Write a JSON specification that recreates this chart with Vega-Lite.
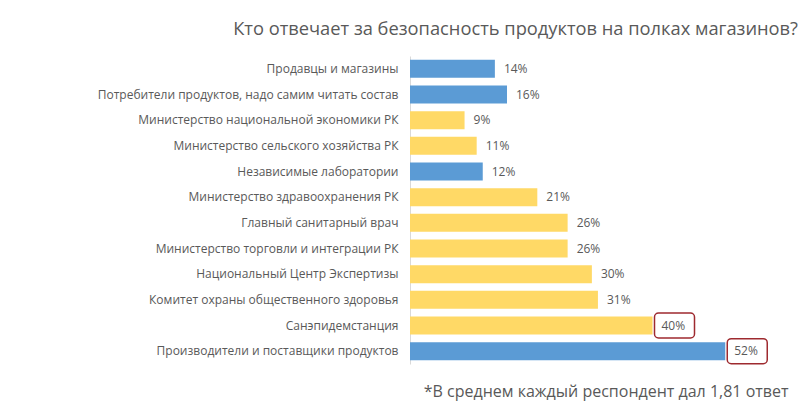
{
  "$schema": "https://vega.github.io/schema/vega-lite/v6.json",
  "width": 388,
  "height": 308,
  "autosize": {"type": "none"},
  "padding": {"left": 410, "top": 56, "right": 2, "bottom": 48},
  "background": "white",
  "config": {"view": {"stroke": null}, "font": "Open Sans"},
  "title": {
    "text": "Кто отвечает за безопасность продуктов на полках магазинов?",
    "anchor": "end",
    "frame": "group",
    "fontSize": 18.3,
    "fontWeight": "normal",
    "color": "#595959",
    "offset": 17
  },
  "data": {
    "values": [
      {"category": "Продавцы и магазины", "value": 14, "group": "blue", "highlight": false},
      {"category": "Потребители продуктов, надо самим читать состав", "value": 16, "group": "blue", "highlight": false},
      {"category": "Министерство национальной экономики РК", "value": 9, "group": "yellow", "highlight": false},
      {"category": "Министерство сельского хозяйства РК", "value": 11, "group": "yellow", "highlight": false},
      {"category": "Независимые лаборатории", "value": 12, "group": "blue", "highlight": false},
      {"category": "Министерство здравоохранения РК", "value": 21, "group": "yellow", "highlight": false},
      {"category": "Главный санитарный врач", "value": 26, "group": "yellow", "highlight": false},
      {"category": "Министерство торговли и интеграции РК", "value": 26, "group": "yellow", "highlight": false},
      {"category": "Национальный Центр Экспертизы", "value": 30, "group": "yellow", "highlight": false},
      {"category": "Комитет охраны общественного здоровья", "value": 31, "group": "yellow", "highlight": false},
      {"category": "Санэпидемстанция", "value": 40, "group": "yellow", "highlight": true},
      {"category": "Производители и поставщики продуктов", "value": 52, "group": "blue", "highlight": true}
    ]
  },
  "encoding": {
    "y": {
      "field": "category",
      "type": "nominal",
      "sort": null,
      "scale": {"paddingInner": 0.3, "paddingOuter": 0.15},
      "axis": {
        "title": null,
        "ticks": false,
        "domain": true,
        "domainColor": "#d9d9d9",
        "labelColor": "#595959",
        "labelFontSize": 12,
        "labelPadding": 12,
        "labelLimit": 400
      }
    }
  },
  "layer": [
    {
      "mark": {"type": "bar"},
      "encoding": {
        "x": {
          "field": "value",
          "type": "quantitative",
          "scale": {"domain": [0, 64], "nice": false},
          "axis": {
            "title": "*В среднем каждый респондент дал 1,81 ответ",
            "labels": false,
            "ticks": false,
            "domain": false,
            "grid": false,
            "titleFontSize": 16,
            "titleFontWeight": "normal",
            "titleColor": "#595959",
            "titleX": 378,
            "titleY": 32,
            "titleAlign": "right",
            "titleBaseline": "alphabetic"
          }
        },
        "color": {
          "field": "group",
          "type": "nominal",
          "scale": {"domain": ["blue", "yellow"], "range": ["#5B9BD5", "#FFD966"]},
          "legend": null
        }
      }
    },
    {
      "transform": [{"filter": "datum.highlight"}],
      "mark": {
        "type": "bar",
        "fill": null,
        "fillOpacity": 0,
        "stroke": "#9E2A2F",
        "strokeWidth": 1.5,
        "cornerRadius": 4,
        "height": 25,
        "xOffset": 2,
        "x2Offset": 42
      },
      "encoding": {
        "x": {"field": "value", "type": "quantitative"},
        "x2": {"field": "value"}
      }
    },
    {
      "transform": [{"calculate": "datum.value + '%'", "as": "label"}],
      "mark": {"type": "text", "align": "left", "dx": 9, "fontSize": 12, "color": "#595959"},
      "encoding": {
        "x": {"field": "value", "type": "quantitative"},
        "text": {"field": "label", "type": "nominal"}
      }
    }
  ]
}
